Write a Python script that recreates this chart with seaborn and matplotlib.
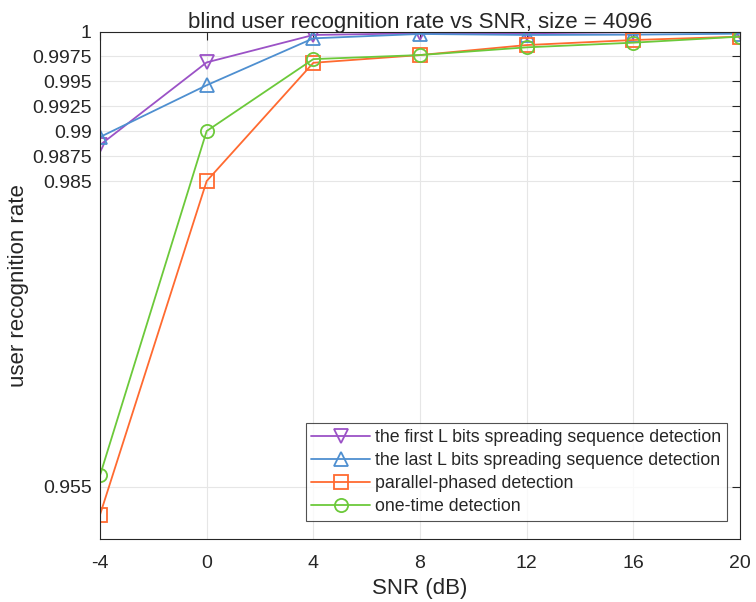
import matplotlib
matplotlib.use("Agg")
import matplotlib.pyplot as plt
import seaborn as sns
import pandas as pd
from matplotlib.ticker import FixedLocator, FixedFormatter, NullLocator

snr = [-4, 0, 4, 8, 12, 16, 20]
first_L = [0.9886, 0.9969, 0.99967, 0.99984, 0.99984, 0.99995, 0.99995]
last_L = [0.9894, 0.9946, 0.99933, 0.99977, 0.99967, 0.9997, 0.9998]
parallel = [0.9523, 0.9850, 0.99686, 0.99764, 0.99865, 0.99916, 0.9995]
one_time = [0.9561, 0.9900, 0.99723, 0.99764, 0.99842, 0.99889, 0.9995]

labels = ["the first L bits spreading sequence detection",
          "the last L bits spreading sequence detection",
          "parallel-phased detection",
          "one-time detection"]
colors = ["#9B52C6", "#4E8FD0", "#FF6A30", "#6CC93A"]
markers = ["v", "^", "s", "o"]

ytick_vals = [0.955, 0.985, 0.9875, 0.99, 0.9925, 0.995, 0.9975, 1.0]
ytick_labels = ["0.955", "0.985", "0.9875", "0.99", "0.9925", "0.995", "0.9975", "1"]
xtick_vals = [-4, 0, 4, 8, 12, 16, 20]

df = pd.DataFrame({
    "SNR": snr * 4,
    "rate": first_L + last_L + parallel + one_time,
    "method": sum([[l] * len(snr) for l in labels], []),
})

sns.set_style("white")
plt.rcParams["font.family"] = ["Liberation Sans", "DejaVu Sans"]

fig = plt.figure(figsize=(7.56, 6.02), dpi=100)
ax = fig.add_axes([100 / 756, 1 - 538.7 / 602, 640 / 756, (538.7 - 31.7) / 602])

sns.lineplot(data=df, x="SNR", y="rate", hue="method", style="method",
             palette=colors, markers=markers, dashes=False, ax=ax,
             markersize=9.5, markerfacecolor="none", markeredgewidth=1.3,
             linewidth=1.3, hue_order=labels, style_order=labels)
for line, c in zip(ax.lines, colors):
    line.set_markeredgecolor(c)
    line.set_markerfacecolor("none")

ax.set_yscale("log")
ax.set_ylim(0.95, 1.0)
ax.set_xlim(-4, 20)
ax.yaxis.set_major_locator(FixedLocator(ytick_vals))
ax.yaxis.set_major_formatter(FixedFormatter(ytick_labels))
ax.yaxis.set_minor_locator(NullLocator())
ax.set_xticks(xtick_vals)
ax.set_xticklabels([str(v) for v in xtick_vals])

ax.grid(True, color="#E6E6E6", linewidth=0.8)
ax.set_axisbelow(True)
for s in ax.spines.values():
    s.set_color("#262626")
    s.set_linewidth(0.8)
ax.tick_params(direction="in", length=6, width=0.8, colors="#262626",
               labelsize=14, top=True, right=True)
ax.tick_params(axis="x", pad=12)
ax.tick_params(axis="y", pad=6)
for t in ax.get_xticklabels() + ax.get_yticklabels():
    t.set_color("#262626")

ax.set_xlabel("SNR (dB)", fontsize=16, color="#262626", labelpad=4)
ax.set_ylabel("user recognition rate", fontsize=16, color="#262626", labelpad=2)
ax.set_title("blind user recognition rate vs SNR, size = 4096", fontsize=16,
             color="#262626", pad=3)

leg = ax.legend(loc="lower right", fontsize=12.8, frameon=True, fancybox=False,
                edgecolor="#262626", borderaxespad=0.0, handlelength=3.3,
                handletextpad=0.28, labelspacing=0.34, borderpad=0.33,
                markerscale=1.0, bbox_to_anchor=(0.9797, 0.0349))
leg.get_frame().set_linewidth(0.8)
for h, c in zip(leg.get_lines(), colors):
    h.set_markerfacecolor("none")
    h.set_markeredgecolor(c)

fig.savefig("out.png", dpi=100)
